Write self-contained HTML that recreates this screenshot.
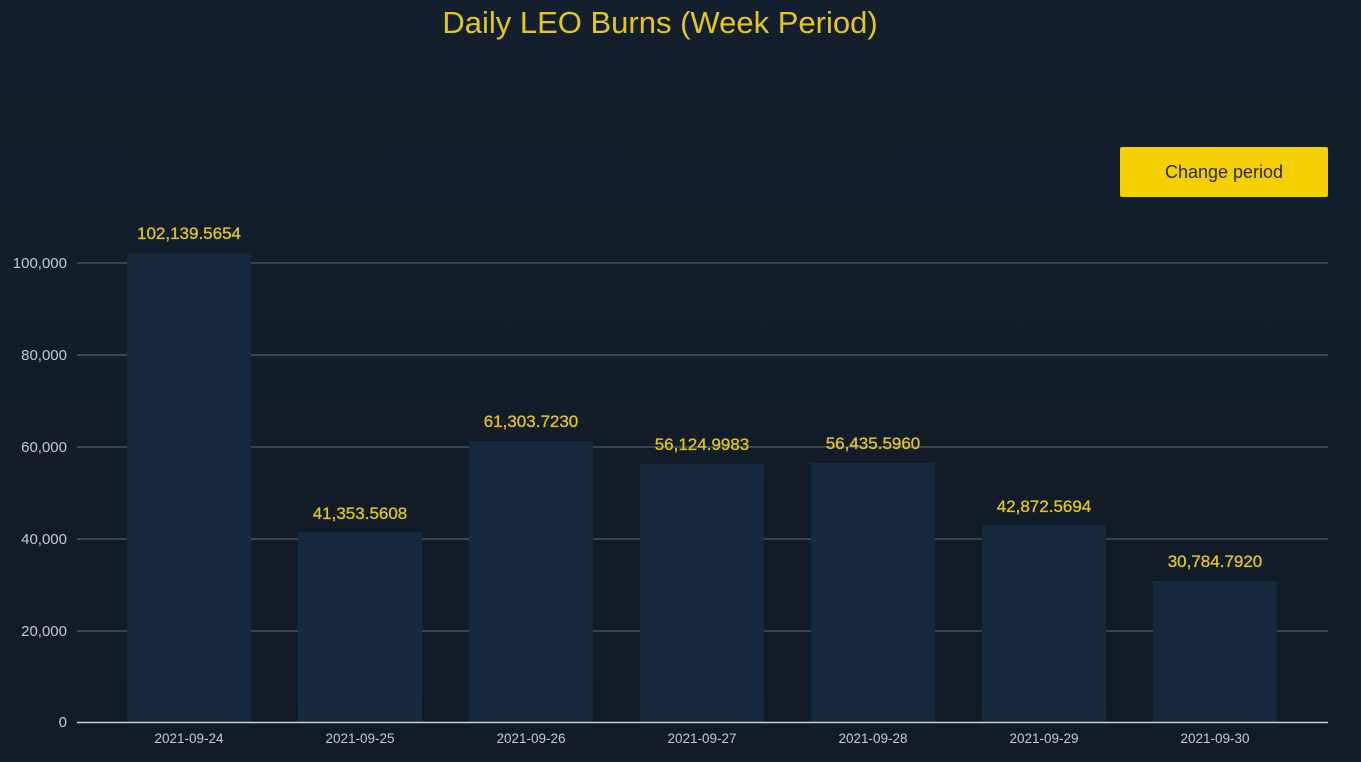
<!DOCTYPE html>
<html><head><style>
html,body{margin:0;padding:0;background:#121d2a;}
body{width:1361px;height:762px;overflow:hidden;position:relative;background:linear-gradient(180deg,#131f2c,#111b27);font-family:"Liberation Sans",sans-serif;}
.btn{position:absolute;left:1120px;top:147px;width:208px;height:50px;background:#f5d000;border-radius:2px;color:#2a2a1a;font-size:18px;line-height:50px;text-align:center;}
</style></head><body>
<svg width="1361" height="762" style="position:absolute;left:0;top:0" font-family="Liberation Sans, sans-serif">
<text x="660" y="33" text-anchor="middle" fill="#e6c51c" font-size="31">Daily LEO Burns (Week Period)</text>
<g stroke="#505c68" stroke-width="1.2">
<line x1="77" y1="263" x2="1328" y2="263"/>
<line x1="77" y1="355" x2="1328" y2="355"/>
<line x1="77" y1="447" x2="1328" y2="447"/>
<line x1="77" y1="539" x2="1328" y2="539"/>
<line x1="77" y1="631" x2="1328" y2="631"/>
</g>
<g fill="#c2cad2" font-size="15" text-anchor="end">
<text x="67" y="268">100,000</text>
<text x="67" y="360">80,000</text>
<text x="67" y="452">60,000</text>
<text x="67" y="544">40,000</text>
<text x="67" y="636">20,000</text>
<text x="67" y="727">0</text>
</g>
<g fill="#172a3d">
<rect x="127" y="253" width="124" height="469"/>
<rect x="298" y="532" width="124" height="190"/>
<rect x="469" y="441" width="124" height="281"/>
<rect x="640" y="464" width="124" height="258"/>
<rect x="811" y="463" width="124" height="259"/>
<rect x="982" y="525" width="124" height="197"/>
<rect x="1153" y="581" width="124" height="141"/>
</g>
<line x1="77" y1="722.5" x2="1328" y2="722.5" stroke="#c8d0d8" stroke-width="1.5"/>
<g fill="#e6c51c" font-size="17" text-anchor="middle" stroke="#e6c51c" stroke-width="0.3">
<text x="189" y="239">102,139.5654</text>
<text x="360" y="519">41,353.5608</text>
<text x="531" y="427">61,303.7230</text>
<text x="702" y="450">56,124.9983</text>
<text x="873" y="449">56,435.5960</text>
<text x="1044" y="512">42,872.5694</text>
<text x="1215" y="567">30,784.7920</text>
</g>
<g fill="#c2cad2" font-size="13.5" text-anchor="middle">
<text x="189" y="743">2021-09-24</text>
<text x="360" y="743">2021-09-25</text>
<text x="531" y="743">2021-09-26</text>
<text x="702" y="743">2021-09-27</text>
<text x="873" y="743">2021-09-28</text>
<text x="1044" y="743">2021-09-29</text>
<text x="1215" y="743">2021-09-30</text>
</g>
</svg>
<div class="btn">Change period</div>
</body></html>
